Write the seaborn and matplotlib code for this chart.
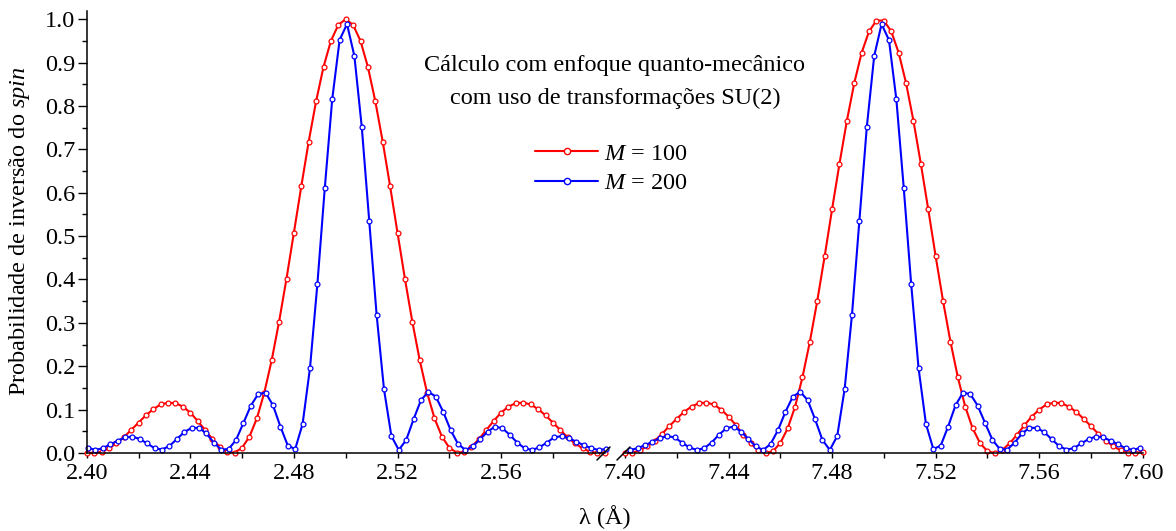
import matplotlib
matplotlib.use("Agg")
import numpy as np
import pandas as pd
import seaborn as sns
import matplotlib.pyplot as plt
from matplotlib.lines import Line2D
from matplotlib.ticker import FixedLocator, FormatStrFormatter

# ---------------- data ----------------
# wavelength grids (uniform sampling, step 0.2/70 Å)
lam_red_left = np.linspace(2.40, 2.60, 71)
lam_blue_left = np.linspace(2.4005, 2.6005, 71)
lam_red_right = np.linspace(7.40, 7.60, 71)
lam_blue_right = np.linspace(7.4020, 7.5991, 70)

# M = 100, left window (around 2.50 Å)
p_m100_left = [
    0.001, 0.000, 0.003, 0.011, 0.022, 0.036, 0.053, 0.070, 0.087, 0.101,
    0.112, 0.116, 0.115, 0.107, 0.093, 0.074, 0.053, 0.032, 0.014, 0.002,
    0.001, 0.012, 0.038, 0.080, 0.139, 0.214, 0.303, 0.402, 0.508, 0.615,
    0.718, 0.811, 0.890, 0.950, 0.987, 1.000, 0.987, 0.950, 0.890, 0.811,
    0.718, 0.615, 0.508, 0.402, 0.303, 0.214, 0.139, 0.080, 0.038, 0.012,
    0.001, 0.002, 0.014, 0.032, 0.053, 0.074, 0.093, 0.107, 0.115, 0.116,
    0.112, 0.101, 0.087, 0.070, 0.053, 0.036, 0.022, 0.011, 0.003, 0.000,
    0.001,
]

# M = 200, left window
p_m200_left = [
    0.012, 0.007, 0.011, 0.020, 0.028, 0.036, 0.038, 0.032, 0.022, 0.011,
    0.008, 0.016, 0.032, 0.048, 0.058, 0.058, 0.045, 0.024, 0.008, 0.009,
    0.030, 0.069, 0.109, 0.136, 0.139, 0.110, 0.061, 0.017, 0.009, 0.067,
    0.196, 0.390, 0.611, 0.815, 0.952, 0.989, 0.915, 0.751, 0.536, 0.319,
    0.147, 0.039, 0.007, 0.030, 0.078, 0.122, 0.141, 0.130, 0.095, 0.053,
    0.021, 0.007, 0.015, 0.032, 0.049, 0.061, 0.057, 0.042, 0.024, 0.011,
    0.007, 0.013, 0.024, 0.036, 0.039, 0.034, 0.026, 0.018, 0.011, 0.007,
    0.009,
]

# M = 100, right window (around 7.50 Å)
p_m100_right = [
    0.000, 0.001, 0.006, 0.016, 0.028, 0.044, 0.062, 0.079, 0.095, 0.107,
    0.115, 0.116, 0.112, 0.100, 0.084, 0.064, 0.042, 0.022, 0.007, 0.000,
    0.004, 0.023, 0.057, 0.107, 0.175, 0.257, 0.351, 0.454, 0.562, 0.667,
    0.766, 0.853, 0.923, 0.972, 0.997, 0.997, 0.972, 0.923, 0.853, 0.766,
    0.667, 0.562, 0.454, 0.351, 0.257, 0.175, 0.107, 0.057, 0.023, 0.004,
    0.000, 0.007, 0.022, 0.042, 0.064, 0.084, 0.100, 0.112, 0.116, 0.115,
    0.107, 0.095, 0.079, 0.062, 0.044, 0.028, 0.016, 0.006, 0.001, 0.000,
    0.003,
]

# M = 200, right window
p_m200_right = [
    0.007, 0.011, 0.018, 0.026, 0.034, 0.039, 0.036, 0.024, 0.013, 0.007,
    0.011, 0.024, 0.042, 0.057, 0.061, 0.049, 0.032, 0.015, 0.007, 0.021,
    0.053, 0.095, 0.130, 0.141, 0.122, 0.078, 0.030, 0.007, 0.039, 0.147,
    0.319, 0.536, 0.751, 0.915, 0.989, 0.952, 0.815, 0.611, 0.390, 0.196,
    0.067, 0.009, 0.017, 0.061, 0.110, 0.139, 0.136, 0.109, 0.069, 0.030,
    0.009, 0.008, 0.024, 0.045, 0.058, 0.058, 0.048, 0.032, 0.016, 0.008,
    0.011, 0.022, 0.032, 0.038, 0.036, 0.028, 0.020, 0.011, 0.007, 0.012,
]

series_labels = ["$M$ = 100", "$M$ = 200"]
left_major = [2.40, 2.44, 2.48, 2.52, 2.56]
left_minor = [2.42, 2.46, 2.50, 2.54, 2.58]
right_major = [7.40, 7.44, 7.48, 7.52, 7.56, 7.60]
right_minor = [7.42, 7.46, 7.50, 7.54, 7.58]
y_major = [0.0, 0.1, 0.2, 0.3, 0.4, 0.5, 0.6, 0.7, 0.8, 0.9, 1.0]
y_minor = [0.05, 0.15, 0.25, 0.35, 0.45, 0.55, 0.65, 0.75, 0.85, 0.95]

# ---------------- style ----------------
sns.set_style("ticks")
plt.rcParams["font.family"] = ["Liberation Serif", "DejaVu Serif"]
plt.rcParams["mathtext.fontset"] = "custom"
plt.rcParams["mathtext.rm"] = "Liberation Serif"
plt.rcParams["mathtext.it"] = "Liberation Serif:italic"
plt.rcParams["text.color"] = "black"
plt.rcParams["axes.edgecolor"] = "black"

FS = 17.5
RED = "#ff0000"
BLUE = "#0000ff"

W, H = 1176, 531
fig = plt.figure(figsize=(W / 100, H / 100), dpi=100)
ax1 = fig.add_axes([86.7 / W, 78 / H, 518 / W, 442 / H])
ax2 = fig.add_axes([625 / W, 78 / H, 517.7 / W, 442 / H])

def draw(ax, x, y, color):
    df = pd.DataFrame({"lam": x, "p": y})
    sns.lineplot(data=df, x="lam", y="p", ax=ax, color=color, lw=1.5,
                 marker="o", markersize=3.5, markerfacecolor="white",
                 markeredgecolor=color, markeredgewidth=0.9,
                 clip_on=False, errorbar=None, sort=False, legend=False)

draw(ax1, lam_red_left, p_m100_left, RED)
draw(ax1, lam_blue_left, p_m200_left, BLUE)
draw(ax2, lam_red_right, p_m100_right, RED)
draw(ax2, lam_blue_right, p_m200_right, BLUE)

ax1.set_xlim(2.40, 2.60)
ax2.set_xlim(7.40, 7.60)
for ax in (ax1, ax2):
    ax.set_ylim(0, 1.019)
    ax.set_xlabel("")
    ax.set_ylabel("")
    for s in ("top", "right"):
        ax.spines[s].set_visible(False)
    for s in ("left", "bottom"):
        ax.spines[s].set_linewidth(1.1)
    ax.xaxis.set_major_formatter(FormatStrFormatter("%.2f"))
    ax.tick_params(axis="x", which="both", length=3.4, width=1.0,
                   colors="black", labelsize=FS, pad=4)
    ax.patch.set_visible(False)

ax1.xaxis.set_major_locator(FixedLocator(left_major))
ax1.xaxis.set_minor_locator(FixedLocator(left_minor))
ax2.xaxis.set_major_locator(FixedLocator(right_major))
ax2.xaxis.set_minor_locator(FixedLocator(right_minor))

ax1.yaxis.set_major_locator(FixedLocator(y_major))
ax1.yaxis.set_minor_locator(FixedLocator(y_minor))
ax1.yaxis.set_major_formatter(FormatStrFormatter("%.1f"))
ax1.tick_params(axis="y", which="major", length=6.7, width=1.0,
                colors="black", labelsize=FS, pad=1.5)
ax1.tick_params(axis="y", which="minor", length=3.6, width=1.0, colors="black")

ax2.spines["left"].set_visible(False)
ax2.tick_params(axis="y", which="both", left=False, labelleft=False)

# axis break marks
for xc in (603.5, 623.5):
    fig.add_artist(Line2D([(xc - 6.5) / W, (xc + 6.5) / W],
                          [1 - 460 / H, 1 - 447 / H],
                          color="black", lw=1.1))

# texts
fig.text(20 / W, 1 - 231 / H, "Probabilidade de inversão do $\\mathit{spin}$",
         rotation=90, ha="center", va="center", fontsize=FS)
fig.text(605 / W, 1 - 517 / H, "λ (Å)", ha="center", va="center", fontsize=FS)
fig.text(615 / W, 1 - 66 / H, "Cálculo com enfoque quanto-mecânico",
         ha="center", va="center", fontsize=FS)
fig.text(615 / W, 1 - 98 / H, "com uso de transformações SU(2)",
         ha="center", va="center", fontsize=FS)

handles = [
    Line2D([], [], color=RED, lw=1.5, marker="o", markersize=4.5,
           markerfacecolor="white", markeredgecolor=RED, markeredgewidth=1.0),
    Line2D([], [], color=BLUE, lw=1.5, marker="o", markersize=4.5,
           markerfacecolor="white", markeredgecolor=BLUE, markeredgewidth=1.0),
]
fig.legend(handles=handles, labels=series_labels, loc="center left",
           bbox_to_anchor=(535 / W, 1 - 168.5 / H), frameon=False,
           fontsize=FS, handlelength=2.6, handletextpad=0.25,
           labelspacing=0.3, borderpad=0, borderaxespad=0, numpoints=1)

fig.savefig("out.png", dpi=100)
